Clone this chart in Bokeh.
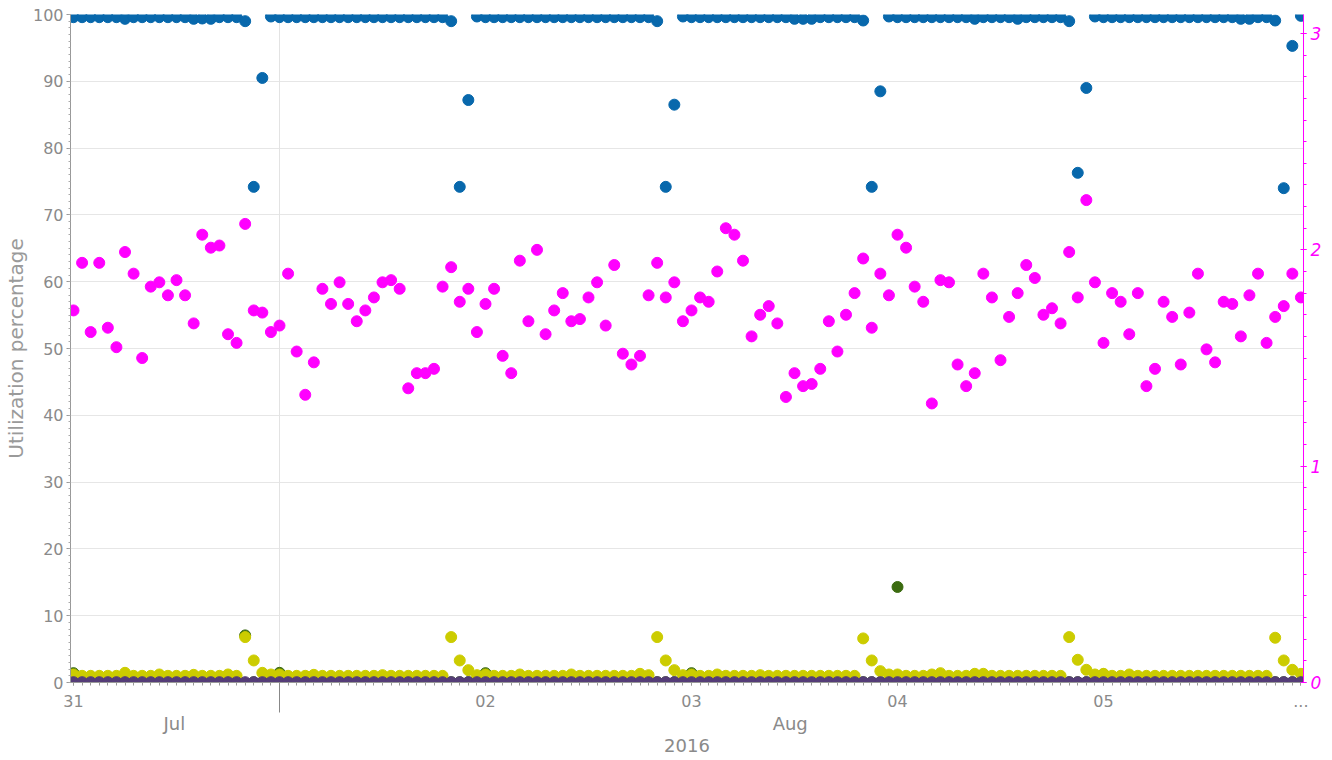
from bokeh.plotting import figure
from bokeh.models import (LinearAxis, Range1d, FixedTicker, SingleIntervalTicker, Grid,
                          ColumnDataSource)
from bokeh.embed import file_html
from bokeh.resources import INLINE

# hours since 2016-07-31 00:00 (hourly samples)
hours = list(range(144))

# blue series (left axis, %)
blue = [
    99.6, 99.6, 99.6, 99.6, 99.6, 99.6, 99.35, 99.6, 99.6, 99.6, 99.6, 99.6,
    99.6, 99.6, 99.35, 99.4, 99.35, 99.6, 99.6, 99.6, 99.0, 74.2, 90.5, 99.7,
    99.6, 99.6, 99.6, 99.6, 99.6, 99.6, 99.6, 99.6, 99.6, 99.6, 99.6, 99.6,
    99.6, 99.6, 99.6, 99.6, 99.6, 99.6, 99.6, 99.6, 99.0, 74.2, 87.2, 99.7,
    99.6, 99.6, 99.6, 99.6, 99.6, 99.6, 99.6, 99.6, 99.6, 99.6, 99.6, 99.6,
    99.6, 99.6, 99.6, 99.6, 99.6, 99.6, 99.6, 99.6, 99.0, 74.2, 86.5, 99.7,
    99.6, 99.6, 99.6, 99.6, 99.6, 99.6, 99.6, 99.6, 99.6, 99.6, 99.6, 99.6,
    99.35, 99.35, 99.35, 99.6, 99.6, 99.6, 99.6, 99.6, 99.1, 74.2, 88.5, 99.7,
    99.6, 99.6, 99.6, 99.6, 99.6, 99.6, 99.6, 99.6, 99.6, 99.35, 99.6, 99.6,
    99.6, 99.6, 99.35, 99.6, 99.6, 99.6, 99.6, 99.6, 99.0, 76.3, 89.0, 99.7,
    99.6, 99.6, 99.6, 99.6, 99.6, 99.6, 99.6, 99.6, 99.6, 99.6, 99.6, 99.6,
    99.6, 99.6, 99.6, 99.6, 99.35, 99.35, 99.6, 99.6, 99.1, 74.0, 95.3, 99.8,
]

# dark green series (left axis, %)
green = [
    1.4, 0.05, 0.05, 0.05, 0.05, 0.05, 0.05, 0.05, 0.05, 0.05, 0.05, 0.05,
    0.05, 0.05, 0.05, 0.05, 0.05, 0.05, 0.05, 0.05, 7.05, 0.05, 0.05, 0.05,
    1.45, 0.05, 0.05, 0.05, 0.05, 0.05, 0.05, 0.05, 0.05, 0.05, 0.05, 0.05,
    0.05, 0.05, 0.05, 0.05, 0.05, 0.05, 0.05, 0.05, 0.05, 0.05, 0.05, 0.05,
    1.4, 0.05, 0.05, 0.05, 0.05, 0.05, 0.05, 0.05, 0.05, 0.05, 0.05, 0.05,
    0.05, 0.05, 0.05, 0.05, 0.05, 0.05, 0.05, 0.05, 0.05, 0.05, 0.05, 0.05,
    1.4, 0.05, 0.05, 0.05, 0.05, 0.05, 0.05, 0.05, 0.05, 0.05, 0.05, 0.05,
    0.05, 0.05, 0.05, 0.05, 0.05, 0.05, 0.05, 0.05, 0.05, 0.05, 0.05, 0.05,
    14.3, 0.05, 0.05, 0.05, 0.05, 0.05, 0.05, 0.05, 0.05, 0.05, 0.05, 0.05,
    0.05, 0.05, 0.05, 0.05, 0.05, 0.05, 0.05, 0.05, 0.05, 0.05, 0.05, 0.05,
    1.2, 0.05, 0.05, 0.05, 0.05, 0.05, 0.05, 0.05, 0.05, 0.05, 0.05, 0.05,
    0.05, 0.05, 0.05, 0.05, 0.05, 0.05, 0.05, 0.05, 0.05, 0.05, 0.05, 0.05,
]

# yellow series (left axis, %)
yellow = [
    1.2, 1.0, 1.0, 1.0, 1.0, 1.0, 1.45, 1.0, 1.0, 1.0, 1.2, 1.0,
    1.0, 1.0, 1.15, 1.0, 1.0, 1.0, 1.2, 1.0, 6.8, 3.3, 1.45, 1.2,
    1.2, 1.0, 1.0, 1.0, 1.15, 1.0, 1.0, 1.0, 1.0, 1.0, 1.0, 1.0,
    1.1, 1.0, 1.0, 1.0, 1.0, 1.0, 1.0, 1.0, 6.8, 3.3, 1.85, 1.1,
    1.2, 1.0, 1.0, 1.0, 1.2, 1.0, 1.0, 1.0, 1.0, 1.0, 1.2, 1.0,
    1.0, 1.0, 1.0, 1.0, 1.0, 1.0, 1.3, 1.1, 6.8, 3.3, 1.85, 1.1,
    1.2, 1.0, 1.0, 1.2, 1.0, 1.0, 1.0, 1.0, 1.1, 1.0, 1.0, 1.0,
    1.0, 1.0, 1.0, 1.0, 1.0, 1.0, 1.0, 1.0, 6.6, 3.3, 1.7, 1.2,
    1.2, 1.0, 1.0, 1.0, 1.2, 1.4, 1.0, 1.0, 1.0, 1.3, 1.3, 1.0,
    1.0, 1.0, 1.0, 1.0, 1.0, 1.0, 1.0, 1.0, 6.8, 3.4, 1.9, 1.2,
    1.3, 1.0, 1.0, 1.2, 1.0, 1.0, 1.0, 1.0, 1.0, 1.0, 1.0, 1.0,
    1.0, 1.0, 1.0, 1.0, 1.0, 1.0, 1.0, 1.0, 6.7, 3.3, 1.9, 1.3,
]

# purple series (left axis, %)
purple = [
    0.05, 0.05, 0.05, 0.05, 0.05, 0.05, 0.05, 0.05, 0.05, 0.05, 0.05, 0.05,
    0.05, 0.05, 0.05, 0.05, 0.05, 0.05, 0.05, 0.05, 0.05, 0.05, 0.05, 0.05,
    0.05, 0.05, 0.05, 0.05, 0.05, 0.05, 0.05, 0.05, 0.05, 0.05, 0.05, 0.05,
    0.05, 0.05, 0.05, 0.05, 0.05, 0.05, 0.05, 0.05, 0.05, 0.05, 0.05, 0.05,
    0.05, 0.05, 0.05, 0.05, 0.05, 0.05, 0.05, 0.05, 0.05, 0.05, 0.05, 0.05,
    0.05, 0.05, 0.05, 0.05, 0.05, 0.05, 0.05, 0.05, 0.05, 0.05, 0.05, 0.05,
    0.05, 0.05, 0.05, 0.05, 0.05, 0.05, 0.05, 0.05, 0.05, 0.05, 0.05, 0.05,
    0.05, 0.05, 0.05, 0.05, 0.05, 0.05, 0.05, 0.05, 0.05, 0.05, 0.05, 0.05,
    0.05, 0.05, 0.05, 0.05, 0.05, 0.05, 0.05, 0.05, 0.05, 0.05, 0.05, 0.05,
    0.05, 0.05, 0.05, 0.05, 0.05, 0.05, 0.05, 0.05, 0.05, 0.05, 0.05, 0.05,
    0.05, 0.05, 0.05, 0.05, 0.05, 0.05, 0.05, 0.05, 0.05, 0.05, 0.05, 0.05,
    0.05, 0.05, 0.05, 0.05, 0.05, 0.05, 0.05, 0.05, 0.05, 0.05, 0.05, 0.05,
]

# magenta series (right axis)
magenta = [
    1.72, 1.94, 1.62, 1.94, 1.64, 1.55, 1.99, 1.89, 1.50, 1.83, 1.85, 1.79,
    1.86, 1.79, 1.66, 2.07, 2.01, 2.02, 1.61, 1.57, 2.12, 1.72, 1.71, 1.62,
    1.65, 1.89, 1.53, 1.33, 1.48, 1.82, 1.75, 1.85, 1.75, 1.67, 1.72, 1.78,
    1.85, 1.86, 1.82, 1.36, 1.43, 1.43, 1.45, 1.83, 1.92, 1.76, 1.82, 1.62,
    1.75, 1.82, 1.51, 1.43, 1.95, 1.67, 2.00, 1.61, 1.72, 1.80, 1.67, 1.68,
    1.78, 1.85, 1.65, 1.93, 1.52, 1.47, 1.51, 1.79, 1.94, 1.78, 1.85, 1.67,
    1.72, 1.78, 1.76, 1.90, 2.10, 2.07, 1.95, 1.60, 1.70, 1.74, 1.66, 1.32,
    1.43, 1.37, 1.38, 1.45, 1.67, 1.53, 1.70, 1.80, 1.96, 1.64, 1.89, 1.79,
    2.07, 2.01, 1.83, 1.76, 1.29, 1.86, 1.85, 1.47, 1.37, 1.43, 1.89, 1.78,
    1.49, 1.69, 1.80, 1.93, 1.87, 1.70, 1.73, 1.66, 1.99, 1.78, 2.23, 1.85,
    1.57, 1.80, 1.76, 1.61, 1.80, 1.37, 1.45, 1.76, 1.69, 1.47, 1.71, 1.89,
    1.54, 1.48, 1.76, 1.75, 1.60, 1.79, 1.89, 1.57, 1.69, 1.74, 1.89, 1.78,
]

day_ticks = [0, 48, 72, 96, 120, 143]
day_labels = {0: "31", 48: "02", 72: "03", 96: "04", 120: "05", 143: "..."}
month_ticks = [11.75, 83.5]
month_labels = {11.75: "Jul", 83.5: "Aug"}
month_boundary = [24]
year_label = "2016"

FONT = "DejaVu Sans"
GRAY = "#8a8a8a"

p = figure(width=1332, height=760, output_backend="svg", toolbar_location=None,
           x_range=Range1d(-0.35, 143.3), y_range=Range1d(0, 100),
           x_axis_location=None, y_axis_location=None,
           min_border_left=70, min_border_right=29, min_border_top=14, min_border_bottom=78)
p.outline_line_color = None
p.background_fill_color = "white"
p.extra_y_ranges = {"mag": Range1d(0, 3.088)}

# remove default grids, add our own
p.center = [r for r in p.center if not isinstance(r, Grid)]
left_ticker = SingleIntervalTicker(interval=10, num_minor_ticks=10)
p.add_layout(Grid(dimension=1, ticker=left_ticker, grid_line_color="#e6e6e6"))
p.add_layout(Grid(dimension=0, ticker=FixedTicker(ticks=month_boundary), grid_line_color="#e3e3e3"))

# left axis
yl = LinearAxis(ticker=left_ticker, axis_label="Utilization percentage")
yl.axis_label_text_font = FONT
yl.axis_label_text_font_size = "20px"
yl.axis_label_text_font_style = "normal"
yl.axis_label_text_color = "#9a9a9a"
yl.axis_label_standoff = 2
yl.major_label_text_font = FONT
yl.major_label_text_font_size = "16px"
yl.major_label_text_color = GRAY
yl.major_label_standoff = 3
yl.axis_line_color = "#999999"
yl.major_tick_line_color = "#999999"
yl.minor_tick_line_color = "#aaaaaa"
yl.major_tick_in = 0
yl.major_tick_out = 4
yl.minor_tick_in = 0
yl.minor_tick_out = 2
p.add_layout(yl, "left")

# right axis
yr = LinearAxis(y_range_name="mag", ticker=SingleIntervalTicker(interval=1, num_minor_ticks=10))
yr.major_label_text_font = FONT
yr.major_label_text_font_size = "17px"
yr.major_label_text_font_style = "italic"
yr.major_label_text_color = "#ff00ff"
yr.major_label_standoff = 4
yr.axis_line_color = "#ff00ff"
yr.major_tick_line_color = "#ff00ff"
yr.minor_tick_line_color = "#ff00ff"
yr.major_tick_in = 3
yr.major_tick_out = 3
yr.minor_tick_in = 0
yr.minor_tick_out = 3
p.add_layout(yr, "right")

# bottom axis: days
xd = LinearAxis(ticker=FixedTicker(ticks=day_ticks, minor_ticks=hours),
                major_label_overrides=day_labels)
xd.major_label_text_font = FONT
xd.major_label_text_font_size = "16px"
xd.major_label_text_color = GRAY
xd.major_label_standoff = 9
xd.axis_line_color = "#999999"
xd.major_tick_line_color = "#999999"
xd.minor_tick_line_color = "#999999"
xd.major_tick_in = 0
xd.major_tick_out = 3
xd.minor_tick_in = 0
xd.minor_tick_out = 3
p.add_layout(xd, "below")

# bottom axis: months + year
xm = LinearAxis(ticker=FixedTicker(ticks=month_ticks, minor_ticks=month_boundary),
                major_label_overrides=month_labels, axis_label=year_label)
xm.major_label_text_font = FONT
xm.major_label_text_font_size = "18px"
xm.major_label_text_color = GRAY
xm.major_label_standoff = -3
xm.axis_label_text_font = FONT
xm.axis_label_text_font_size = "18px"
xm.axis_label_text_font_style = "normal"
xm.axis_label_text_color = GRAY
xm.axis_label_standoff = 2
xm.axis_line_color = None
xm.major_tick_line_color = None
xm.minor_tick_line_color = "#888888"
xm.minor_tick_in = 27
xm.minor_tick_out = 3
p.add_layout(xm, "below")

src = ColumnDataSource(dict(h=hours, blue=blue, green=green, yellow=yellow,
                            purple=purple, magenta=magenta))

SZ = 11
p.scatter("h", "blue", source=src, size=SZ, color="#0868ac")
p.scatter("h", "green", source=src, size=SZ, color="#3b6b10")
p.scatter("h", "yellow", source=src, size=SZ, color="#cccc00")
p.scatter("h", "purple", source=src, size=SZ, color="#553d78")
p.scatter("h", "magenta", source=src, size=SZ, color="#ff00ff", y_range_name="mag")

open("out.html", "w").write(file_html(p, INLINE))
